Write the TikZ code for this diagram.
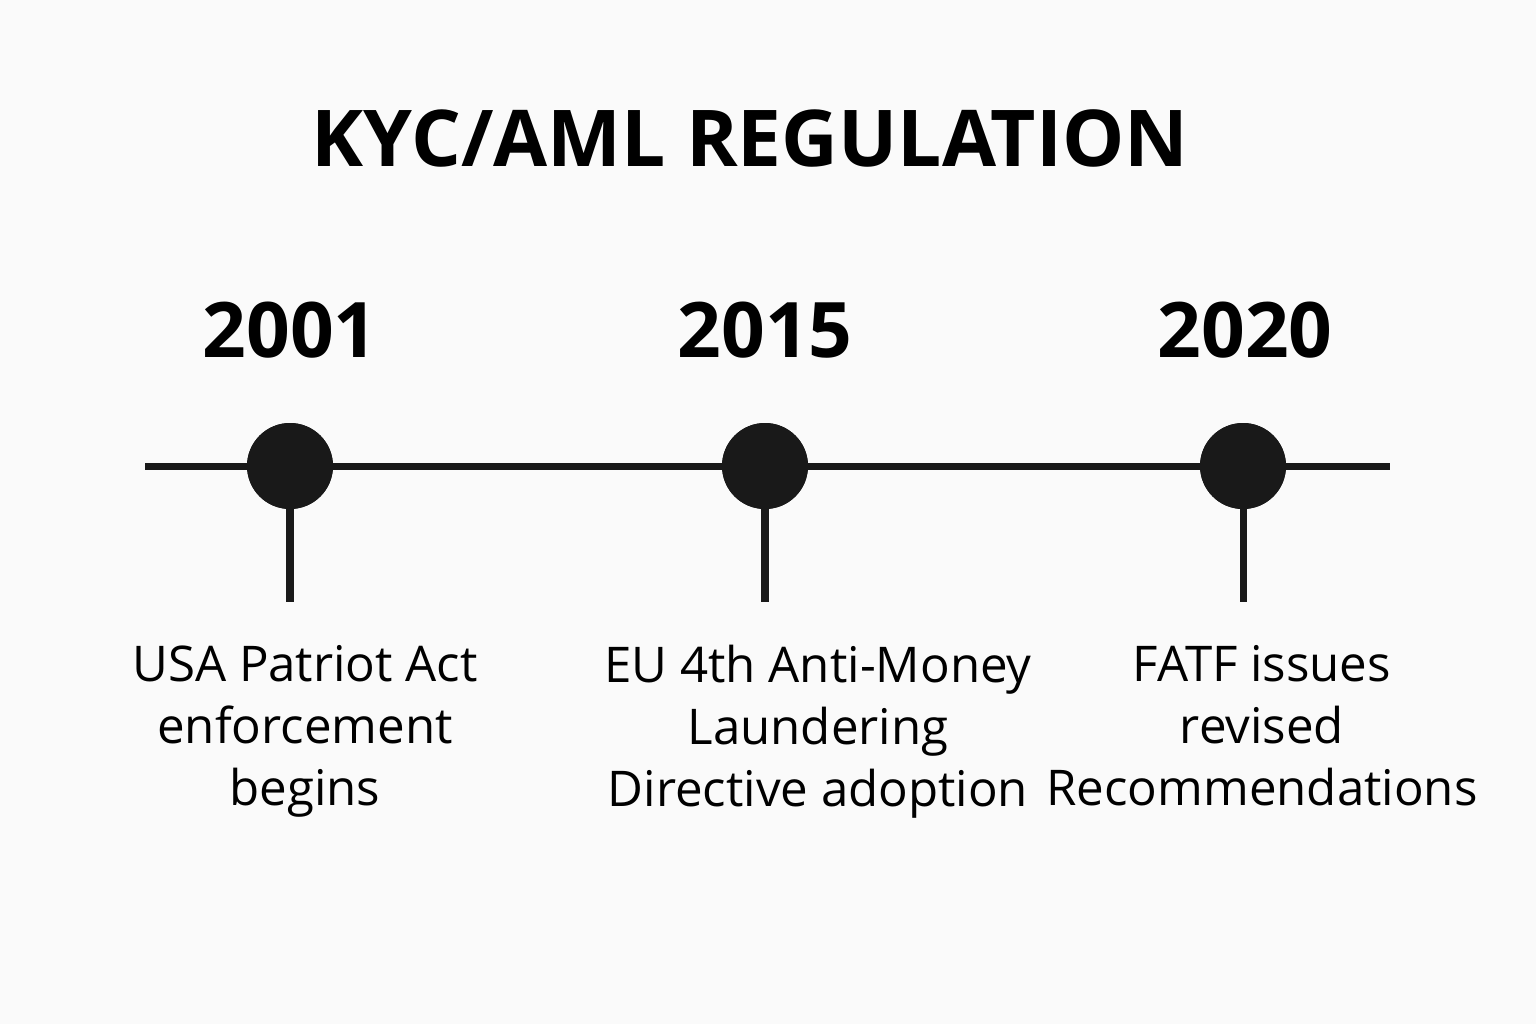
\documentclass[tikz,border=0pt]{standalone}
\usepackage{fontspec}
\setmainfont{Open Sans}
\usetikzlibrary{positioning}
\tikzset{
	dot/.style = {circle, fill=black!90, minimum size=0.86cm, inner sep=0pt},
	year/.style = {font=\fontsize{21.8}{26}\selectfont\bfseries},
	event/.style = {align=center, font=\fontsize{14}{17.6}\selectfont}}
\begin{document}
\begin{tikzpicture}[line width=2pt, x=1cm, y=1cm]
\useasboundingbox [fill=white!98!black] (0,0) rectangle (15.36,-10.24);

% NODES
\node (title) at (7.5,-1.38) {\fontsize{22.3}{26}\selectfont\bfseries KYC/AML REGULATION};
\coordinate (lstart) at (1.45,-4.66);
\coordinate (lend) at (13.9,-4.66);
% events
\node (y1) [year] at (2.9,-3.3) {2001};
\node (y2) [year] at (7.65,-3.3) {2015};
\node (y3) [year] at (12.45,-3.3) {2020};
\node (d1) [dot] at (2.9,-4.66) {};
\node (d2) [dot] at (7.65,-4.66) {};
\node (d3) [dot] at (12.43,-4.66) {};
\coordinate (s1) at (2.9,-6.02);
\coordinate (s2) at (7.65,-6.02);
\coordinate (s3) at (12.43,-6.02);
\node (e1) [event, anchor=north] at (3.05,-6.3) {USA Patriot Act\\enforcement\\begins};
\node (e2) [event, anchor=north] at (8.18,-6.3) {EU 4th Anti-Money\\Laundering\\Directive adoption};
\node (e3) [event, anchor=north] at (12.62,-6.3) {FATF issues\\revised\\Recommendations};

% CONNECTIONS
\draw [black!90] (lstart) -- (lend);
\draw [black!90] (d1.center) -- (s1);
\draw [black!90] (d2.center) -- (s2);
\draw [black!90] (d3.center) -- (s3);
\node [dot] at (d1) {};
\node [dot] at (d2) {};
\node [dot] at (d3) {};

\end{tikzpicture}
\end{document}
